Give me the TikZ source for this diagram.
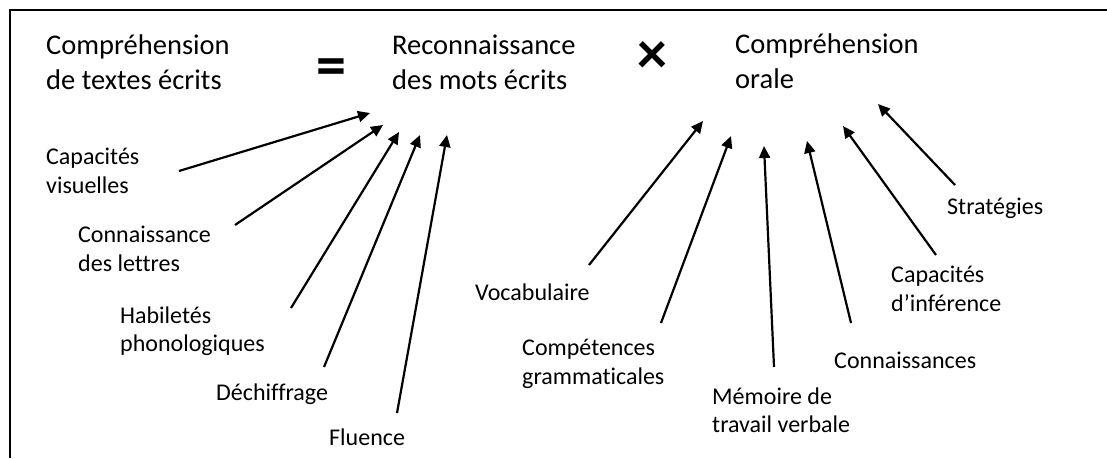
\documentclass[tikz,border=0pt]{standalone}
\usepackage{fontspec}
\setmainfont{Carlito}[Ligatures={NoCommon}]
\usetikzlibrary{arrows.meta}

\tikzset{
    big/.style={font=\fontsize{28.5}{35}\selectfont, align=left, anchor=west, inner sep=0pt},
    small/.style={font=\fontsize{24}{28.5}\selectfont, align=left, anchor=west, inner sep=0pt},
    op/.style={font=\fontsize{60}{60}\selectfont\bfseries, inner sep=0pt},
    arr/.style={-{Triangle[length=12pt,width=11pt]}, line width=2.2pt},
}

\begin{document}
\begin{tikzpicture}[x=1pt,y=-1pt]
    \useasboundingbox (0,0) rectangle (1107,458);
    \draw[line width=2pt] (10,458) -- (10,10) -- (1107,10);

    \node[big] (ecrit) at (46,62)       {Compréhension\\de textes écrits};
    \node[op]  (egal)  at (331,72)      {=};
    \node[big] (mots)  at (392,62)      {Reconnaissance\\des mots écrits};
    \node[op]  (fois)  at (652,58)      {×};
    \node[big] (oral)  at (735,61)      {Compréhension\\orale};

    \node[small] (vis)     at (46,171)  {Capacités\\visuelles};
    \node[small] (lettres) at (78,249)  {Connaissance\\des lettres};
    \node[small] (phono)   at (120,331) {Habiletés\\phonologiques};
    \node[small] (dechif)  at (216,394) {Déchiffrage};
    \node[small] (fluence) at (329,437) {Fluence};

    \node[small] (vocab)   at (475,292) {Vocabulaire};
    \node[small] (gram)    at (522,364) {Compétences\\grammaticales};
    \node[small] (memoire) at (712,410) {Mémoire de\\travail verbale};
    \node[small] (connais) at (834,360) {Connaissances};
    \node[small] (infer)   at (891,289) {Capacités\\d’inférence};
    \node[small] (strat)   at (947,208) {Stratégies};

    % vers la reconnaissance des mots
    \coordinate (t-vis)     at (179,171);   \coordinate (h-vis)     at (370,113);
    \coordinate (t-lettres) at (235,225);   \coordinate (h-lettres) at (383,125);
    \coordinate (t-phono)   at (291,308);   \coordinate (h-phono)   at (399,132);
    \coordinate (t-dechif)  at (324,367);   \coordinate (h-dechif)  at (420,135);
    \coordinate (t-fluence) at (397,413);   \coordinate (h-fluence) at (447,135);

    % vers la comprehension orale
    \coordinate (t-vocab)   at (589,265);   \coordinate (h-vocab)   at (703,121);
    \coordinate (t-gram)    at (661,323);   \coordinate (h-gram)    at (731,136);
    \coordinate (t-memoire) at (774,367);   \coordinate (h-memoire) at (764,146);
    \coordinate (t-connais) at (851,323);   \coordinate (h-connais) at (807,141);
    \coordinate (t-infer)   at (936,255);   \coordinate (h-infer)   at (843,126);
    \coordinate (t-strat)   at (955,185);   \coordinate (h-strat)   at (878,104);

    \foreach \n in {vis,lettres,phono,dechif,fluence,vocab,gram,memoire,connais,infer,strat}
        \draw[arr] (t-\n) -- (h-\n);

\end{tikzpicture}
\end{document}
